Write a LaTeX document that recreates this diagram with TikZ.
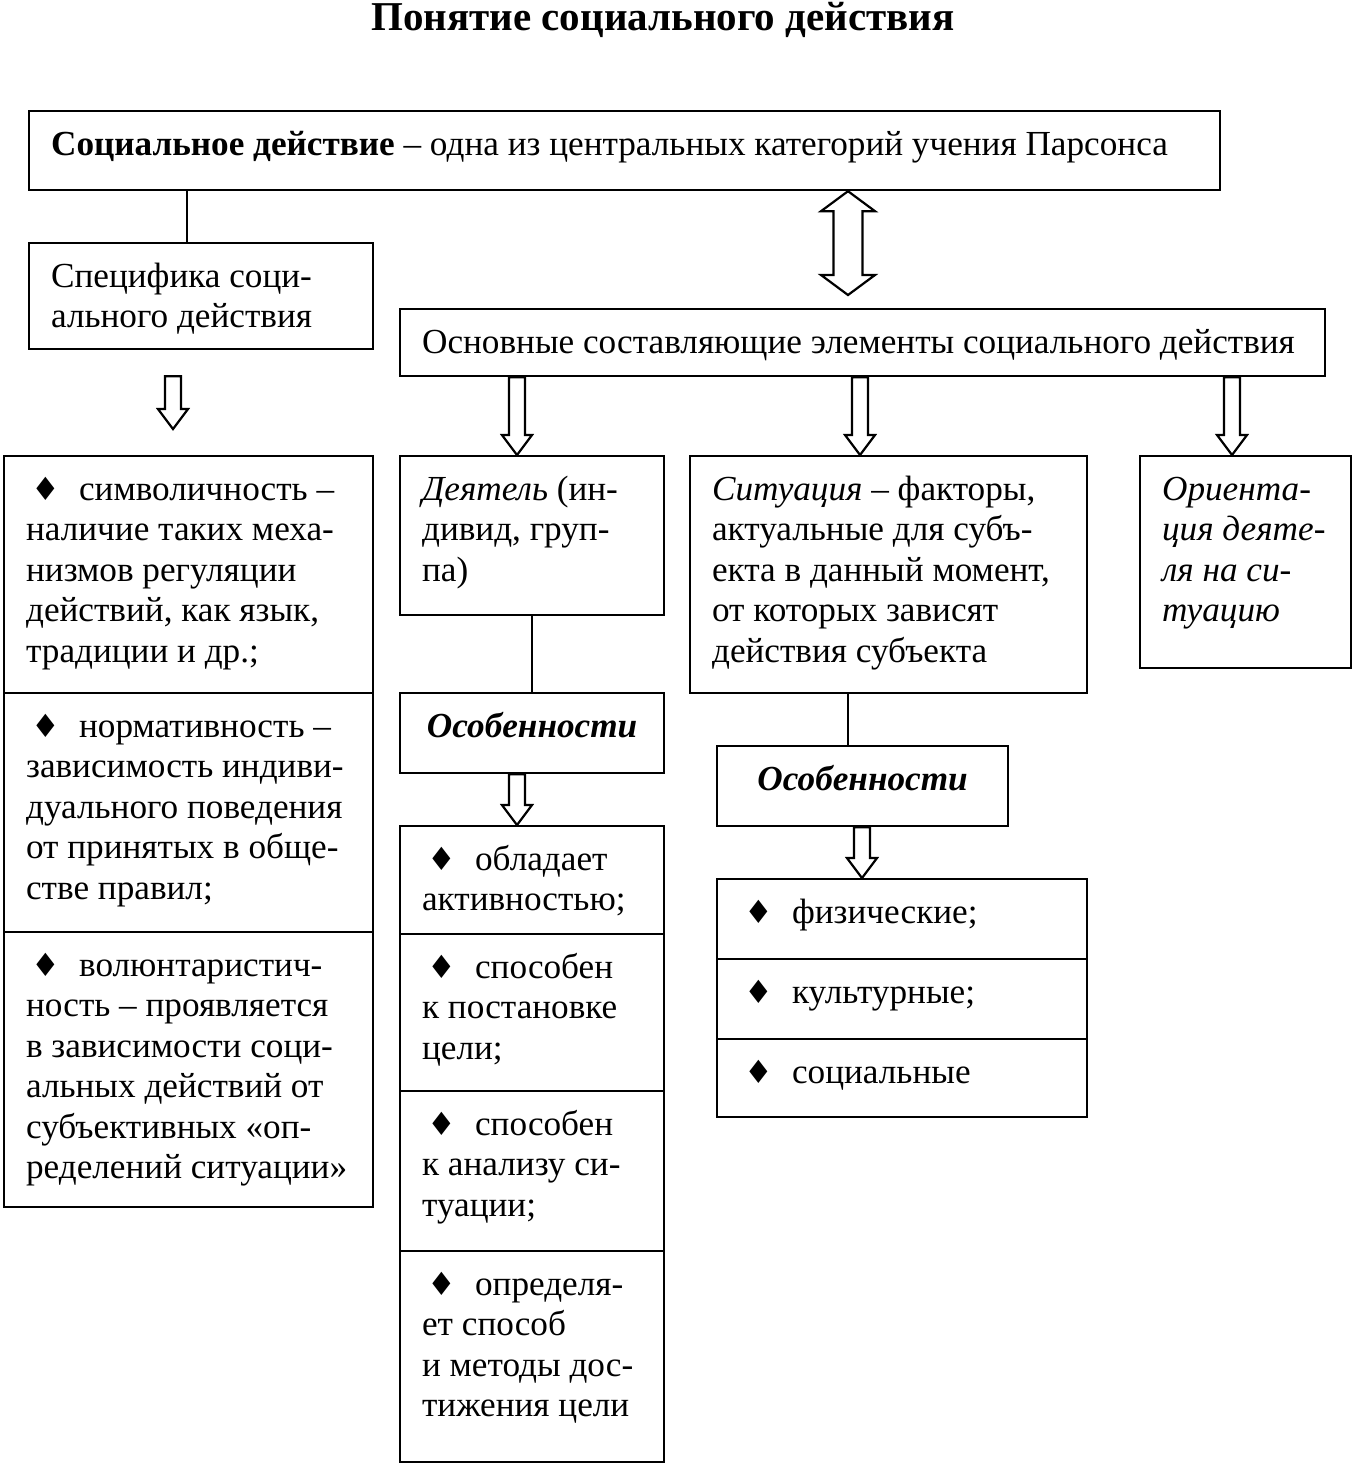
\documentclass[tikz,border=0pt]{standalone}
\usepackage{fontspec}
\setmainfont{Liberation Serif}
\newfontfamily\symfont{DejaVu Sans}
\usetikzlibrary{calc}
\tikzset{
  cellbox/.style={rectangle, draw=black, line width=1.1pt, anchor=north west, inner sep=0pt},
  link/.style={line width=1.1pt},
  hollow/.style={draw=black, fill=white, line width=1.1pt, line join=miter},
}
% bullet of the lists
\newcommand{\bul}{\makebox[26.5pt][l]{\hspace{2.5pt}{\symfont\fontsize{16}{16}\selectfont ♦}}}
% name, x, y, width, height (in px), text
\newcommand{\boxcell}[6]{\node[cellbox] (#1) at (#2,#3) {\parbox[c][\dimexpr#5pt/2\relax][t]{\dimexpr#4pt/2\relax}{\raggedright\leftskip=11pt\relax\vspace*{7.8pt}\strut#6}};}
% hollow arrow pointing down
\newcommand{\downarr}[2]{\draw[hollow] let \p1=#1, \p2=#2 in
  (\x1-4pt,\y1) -- (\x1+4pt,\y1) -- (\x1+4pt,\y2+10pt) -- (\x1+7.5pt,\y2+10pt) -- (\x1,\y2)
  -- (\x1-7.5pt,\y2+10pt) -- (\x1-4pt,\y2+10pt) -- cycle;}
% hollow arrow with two heads
\newcommand{\updownarr}[2]{\draw[hollow] let \p1=#1, \p2=#2 in
  (\x1,\y1) -- (\x1+13.5pt,\y1-10pt) -- (\x1+7.25pt,\y1-10pt) -- (\x1+7.25pt,\y2+10pt)
  -- (\x1+13.5pt,\y2+10pt) -- (\x1,\y2) -- (\x1-13.5pt,\y2+10pt) -- (\x1-7.25pt,\y2+10pt)
  -- (\x1-7.25pt,\y1-10pt) -- (\x1-13.5pt,\y1-10pt) -- cycle;}

\begin{document}
\begin{tikzpicture}[x=0.5pt, y=-0.5pt, font=\fontsize{17.6}{20.25}\selectfont]
\useasboundingbox (0,0) rectangle (1352,1463);
\node[anchor=base, font=\fontsize{20.5}{22}\selectfont\bfseries] (title) at (663,30) {Понятие социального действия};

\boxcell{top}{28}{110}{1191}{79}{\textbf{Социальное действие} – одна из центральных категорий учения Парсонса}
\boxcell{spec}{28}{242}{344}{106}{Специфика соци-\\ального действия}
\boxcell{osn}{399}{308}{925}{67}{Основные составляющие элементы социального действия}

% left column
\boxcell{l1}{3}{455}{369}{237}{\bul символичность –\\наличие таких меха-\\низмов регуляции\\действий, как язык,\\традиции и др.;}
\boxcell{l2}{3}{692}{369}{239}{\bul нормативность –\\зависимость индиви-\\дуального поведения\\от принятых в обще-\\стве правил;}
\boxcell{l3}{3}{931}{369}{275}{\bul волюнтаристич-\\ность – проявляется\\в зависимости соци-\\альных действий от\\субъективных «оп-\\ределений ситуации»}

% actor
\boxcell{deyat}{399}{455}{264}{159}{{\itshape Деятель} (ин-\\дивид, груп-\\па)}
\boxcell{osob1}{399}{692}{264}{80}{\centering{\bfseries\itshape Особенности}}
\boxcell{f1}{399}{825}{264}{108}{\bul обладает\\активностью;}
\boxcell{f2}{399}{933}{264}{157}{\bul способен\\к постановке\\цели;}
\boxcell{f3}{399}{1090}{264}{160}{\bul способен\\к анализу си-\\туации;}
\boxcell{f4}{399}{1250}{264}{211}{\bul определя-\\ет способ\\и методы дос-\\тижения цели}

% situation
\boxcell{sit}{689}{455}{397}{237}{{\itshape Ситуация} – факторы,\\актуальные для субъ-\\екта в данный момент,\\от которых зависят\\действия субъекта}
\boxcell{osob2}{716}{745}{291}{80}{\centering{\bfseries\itshape Особенности}}
\boxcell{s1}{716}{878}{370}{80}{\bul физические;}
\boxcell{s2}{716}{958}{370}{80}{\bul культурные;}
\boxcell{s3}{716}{1038}{370}{78}{\bul социальные}

% orientation
\boxcell{orient}{1139}{455}{211}{212}{{\itshape Ориента-\\ция деяте-\\ля на си-\\туацию}}

\coordinate (xspec) at (187,0);
\coordinate (xsarr) at (173,0);
\coordinate (xdbl) at (848,0);
\coordinate (xa) at (517,0);
\coordinate (xb) at (860,0);
\coordinate (xc) at (1232,0);
\coordinate (xsit) at (848,0);
\coordinate (xo2) at (862,0);

\draw[link] (top.south -| xspec) -- (spec.north -| xspec);
\draw[link] (deyat.south) -- (osob1.north);
\draw[link] (sit.south -| xsit) -- (osob2.north -| xsit);

\updownarr{(top.south -| xdbl)}{($(osn.north -| xdbl)+(0,-13)$)}
\downarr{($(spec.south -| xsarr)+(0,26)$)}{($(l1.north -| xsarr)+(0,-26)$)}
\downarr{(osn.south -| xa)}{(deyat.north -| xa)}
\downarr{(osn.south -| xb)}{(sit.north -| xb)}
\downarr{(osn.south -| xc)}{(orient.north -| xc)}
\downarr{(osob1.south -| xa)}{(f1.north -| xa)}
\downarr{(osob2.south -| xo2)}{(s1.north -| xo2)}
\end{tikzpicture}
\end{document}
